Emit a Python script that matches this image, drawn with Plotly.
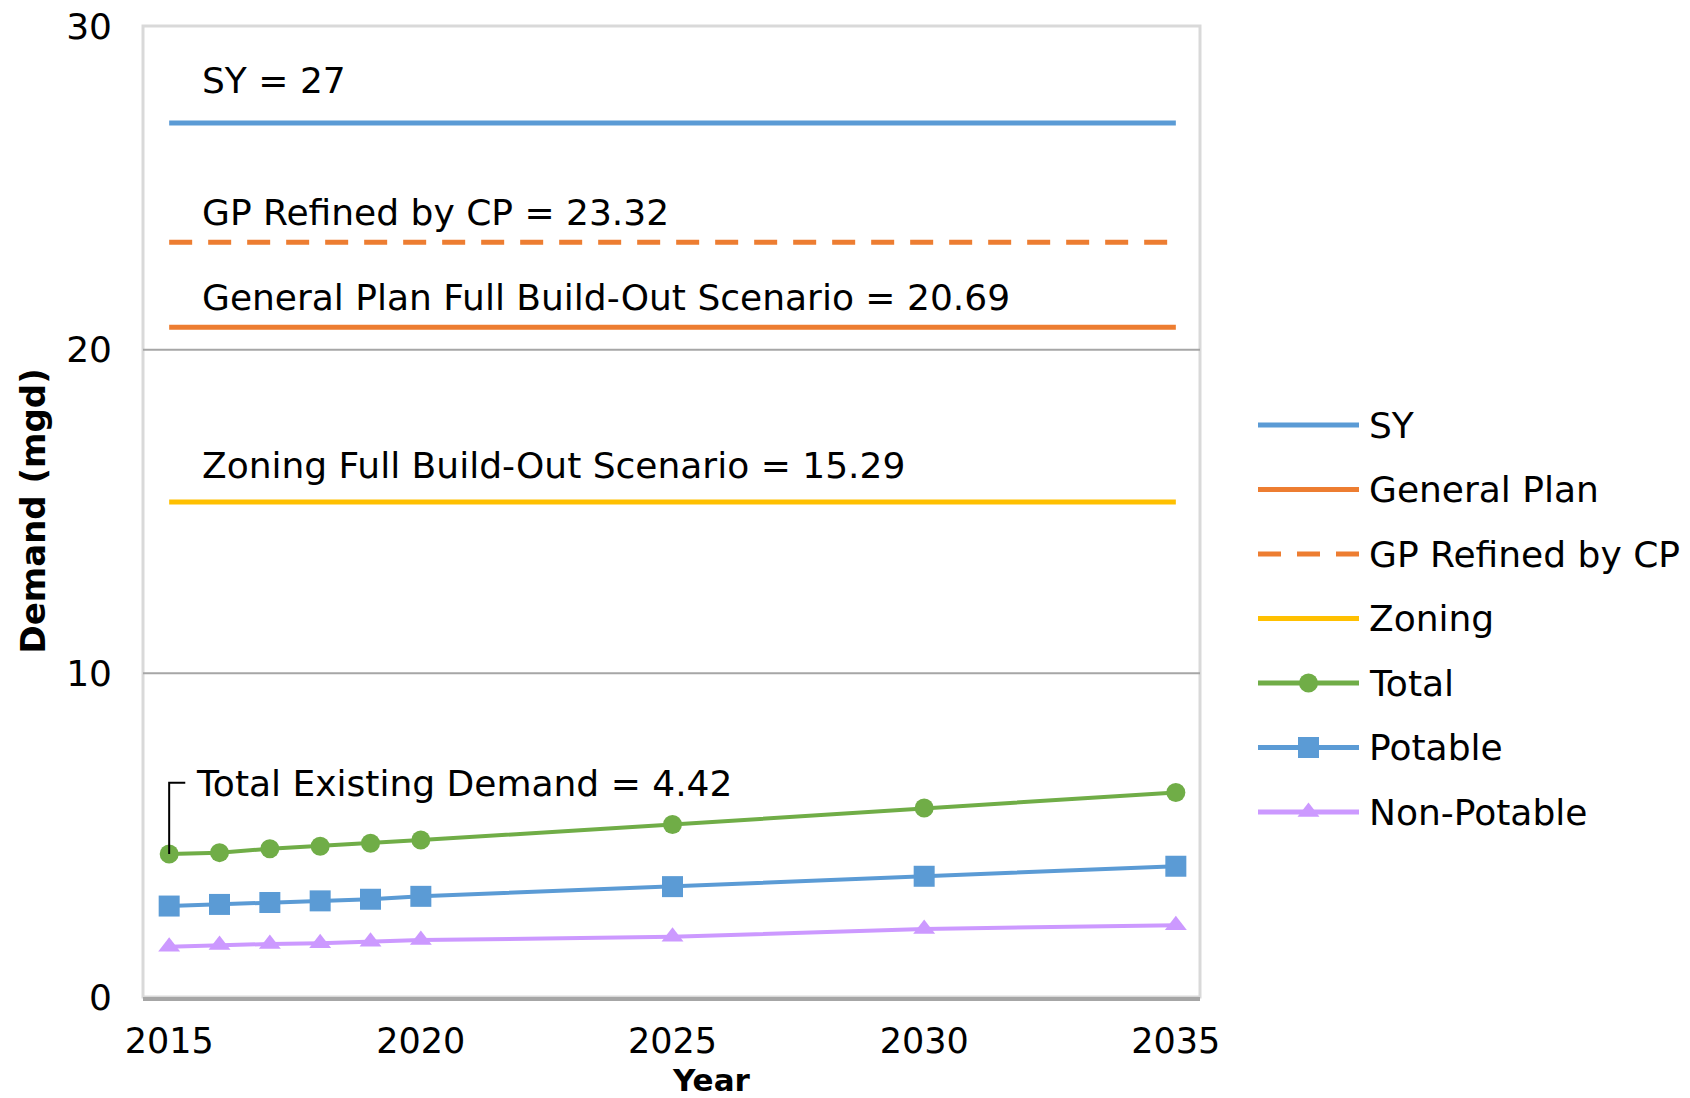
import plotly.graph_objects as go

# ---------------- data ----------------
years = [2015, 2016, 2017, 2018, 2019, 2020, 2025, 2030, 2035]
total = [4.42, 4.46, 4.58, 4.66, 4.75, 4.85, 5.33, 5.84, 6.32]
potable = [2.81, 2.86, 2.92, 2.97, 3.02, 3.11, 3.41, 3.73, 4.04]
non_potable = [1.55, 1.61, 1.64, 1.66, 1.71, 1.76, 1.86, 2.10, 2.22]

scenario_names = ["SY", "General Plan", "GP Refined by CP", "Zoning"]
scenario_values = [27, 20.69, 23.32, 15.29]
scenario_label_text = ["SY", "General Plan Full Build-Out Scenario",
                       "GP Refined by CP", "Zoning Full Build-Out Scenario"]

series_names = ["Total", "Potable", "Non-Potable"]
x_ticks = [2015, 2020, 2025, 2030, 2035]
y_ticks = [0, 10, 20, 30]

# ---------------- style ----------------
FONT = "DejaVu Sans"
FS = 36
W, H = 1690, 1098
L, R, T, B = 143, 20, 26, 101
PW, PH = W - L - R, H - T - B
x_dom = (1200 - L) / PW

scen_colors = ["#5b9bd5", "#ed7d31", "#ed7d31", "#ffc000"]
scen_dash = ["solid", "solid", "23px,16px", "solid"]
scen_label_shift = [43, 30, 30, 37]
ser_colors = ["#70ad47", "#5b9bd5", "#cc99ff"]
ser_symbols = ["circle", "square", "triangle-up"]
ser_sizes = [19, 21, 19]
ser_values = [total, potable, non_potable]

fig = go.Figure()

for name, val, col, dash in zip(scenario_names, scenario_values, scen_colors, scen_dash):
    fig.add_trace(go.Scatter(x=[years[0], years[-1]], y=[val, val], mode="lines",
                             line=dict(color=col, width=5, dash=dash),
                             name=name, showlegend=False, hoverinfo="skip"))

for name, vals, col, sym, sz in zip(series_names, ser_values, ser_colors, ser_symbols, ser_sizes):
    fig.add_trace(go.Scatter(x=years, y=vals, mode="lines+markers",
                             line=dict(color=col, width=4),
                             marker=dict(symbol=sym, size=sz, color=col),
                             name=name, showlegend=False))

EXIST_LABEL_Y = 6.62
fig.add_trace(go.Scatter(x=[years[0], years[0], years[0] + 0.32],
                         y=[total[0], EXIST_LABEL_Y, EXIST_LABEL_Y],
                         mode="lines", line=dict(color="#000000", width=2),
                         showlegend=False, hoverinfo="skip"))

annotations = []
LABEL_X = 2015.62
for txt, val, ys in zip(scenario_label_text, scenario_values, scen_label_shift):
    annotations.append(dict(x=LABEL_X, y=val, xref="x", yref="y", yshift=ys,
                            text=f"{txt} = {val}", showarrow=False,
                            xanchor="left", yanchor="middle",
                            font=dict(family=FONT, size=FS, color="#000000")))
annotations.append(dict(x=2015.5, y=EXIST_LABEL_Y, xref="x", yref="y", yshift=-1,
                        text=f"Total Existing Demand = {total[0]}", showarrow=False,
                        xanchor="left", yanchor="middle",
                        font=dict(family=FONT, size=FS, color="#000000")))

leg_names = scenario_names + series_names
leg_colors = scen_colors + ser_colors
leg_dash = scen_dash + ["solid"] * 3
leg_symbols = [None] * 4 + ser_symbols
leg_sizes = [0] * 4 + ser_sizes
for i, (nm, col, dsh, sym, sz) in enumerate(zip(leg_names, leg_colors, leg_dash, leg_symbols, leg_sizes)):
    fig.add_trace(go.Scatter(x=[0, 1], y=[i, i], xaxis="x2", yaxis="y2", mode="lines",
                             line=dict(color=col, width=5, dash=dsh),
                             showlegend=False, hoverinfo="skip"))
    if sym:
        fig.add_trace(go.Scatter(x=[0.5], y=[i], xaxis="x2", yaxis="y2", mode="markers",
                                 marker=dict(symbol=sym, size=sz, color=col),
                                 showlegend=False, hoverinfo="skip"))
    annotations.append(dict(x=1, y=i, xref="x2", yref="y2", xshift=8, text=nm,
                            showarrow=False, xanchor="left", yanchor="middle",
                            font=dict(family=FONT, size=FS, color="#000000")))

annotations.append(dict(x=(32 - L) / PW, y=0.5, xref="paper", yref="paper",
                        text="<b>Demand (mgd)</b>", textangle=-90, showarrow=False,
                        xanchor="center", yanchor="middle",
                        font=dict(family=FONT, size=34, color="#000000")))
annotations.append(dict(x=(711 - L) / PW, y=(997 - 1080) / PH, xref="paper", yref="paper",
                        text="<b>Year</b>", showarrow=False,
                        xanchor="center", yanchor="middle",
                        font=dict(family=FONT, size=31, color="#000000")))

shapes = [dict(type="rect", xref="x domain", yref="y domain", x0=0, x1=1, y0=0, y1=1,
               line=dict(color="#d9d9d9", width=3), layer="below")]
for v in y_ticks:
    if y_ticks[0] < v < y_ticks[-1]:
        shapes.append(dict(type="line", xref="x domain", yref="y", x0=0, x1=1, y0=v, y1=v,
                           line=dict(color="#a6a6a6", width=2), layer="below"))

fig.update_layout(
    width=W, height=H,
    margin=dict(l=L, r=R, t=T, b=B, autoexpand=False),
    paper_bgcolor="white", plot_bgcolor="white",
    font=dict(family=FONT, size=FS, color="#000000"),
    showlegend=False,
    xaxis=dict(domain=[0, x_dom], range=[x_ticks[0] - 0.52, x_ticks[-1] + 0.48],
               tickvals=x_ticks, showgrid=False, zeroline=False, automargin=False,
               showline=True, linecolor="#a6a6a6", linewidth=4, ticks="",
               ticklabelstandoff=10, tickfont=dict(family=FONT, size=35, color="#000000")),
    yaxis=dict(domain=[0, 1], range=[y_ticks[0], y_ticks[-1]], tickvals=y_ticks,
               showgrid=False, zeroline=False, showline=False, ticks="", automargin=False,
               ticklabelstandoff=30, tickfont=dict(family=FONT, size=FS, color="#000000")),
    xaxis2=dict(domain=[(1258 - L) / PW, (1359 - L) / PW], range=[0, 1], visible=False,
                anchor="y2", fixedrange=True),
    yaxis2=dict(domain=[0, 1], range=[(997 - 425) / 64.5, (26 - 425) / 64.5], visible=False,
                anchor="x2", fixedrange=True),
    annotations=annotations,
    shapes=shapes,
)

fig.write_html("out.html", config={"displayModeBar": False},
               post_script="document.body.style.margin='0';document.body.style.overflow='hidden';")
